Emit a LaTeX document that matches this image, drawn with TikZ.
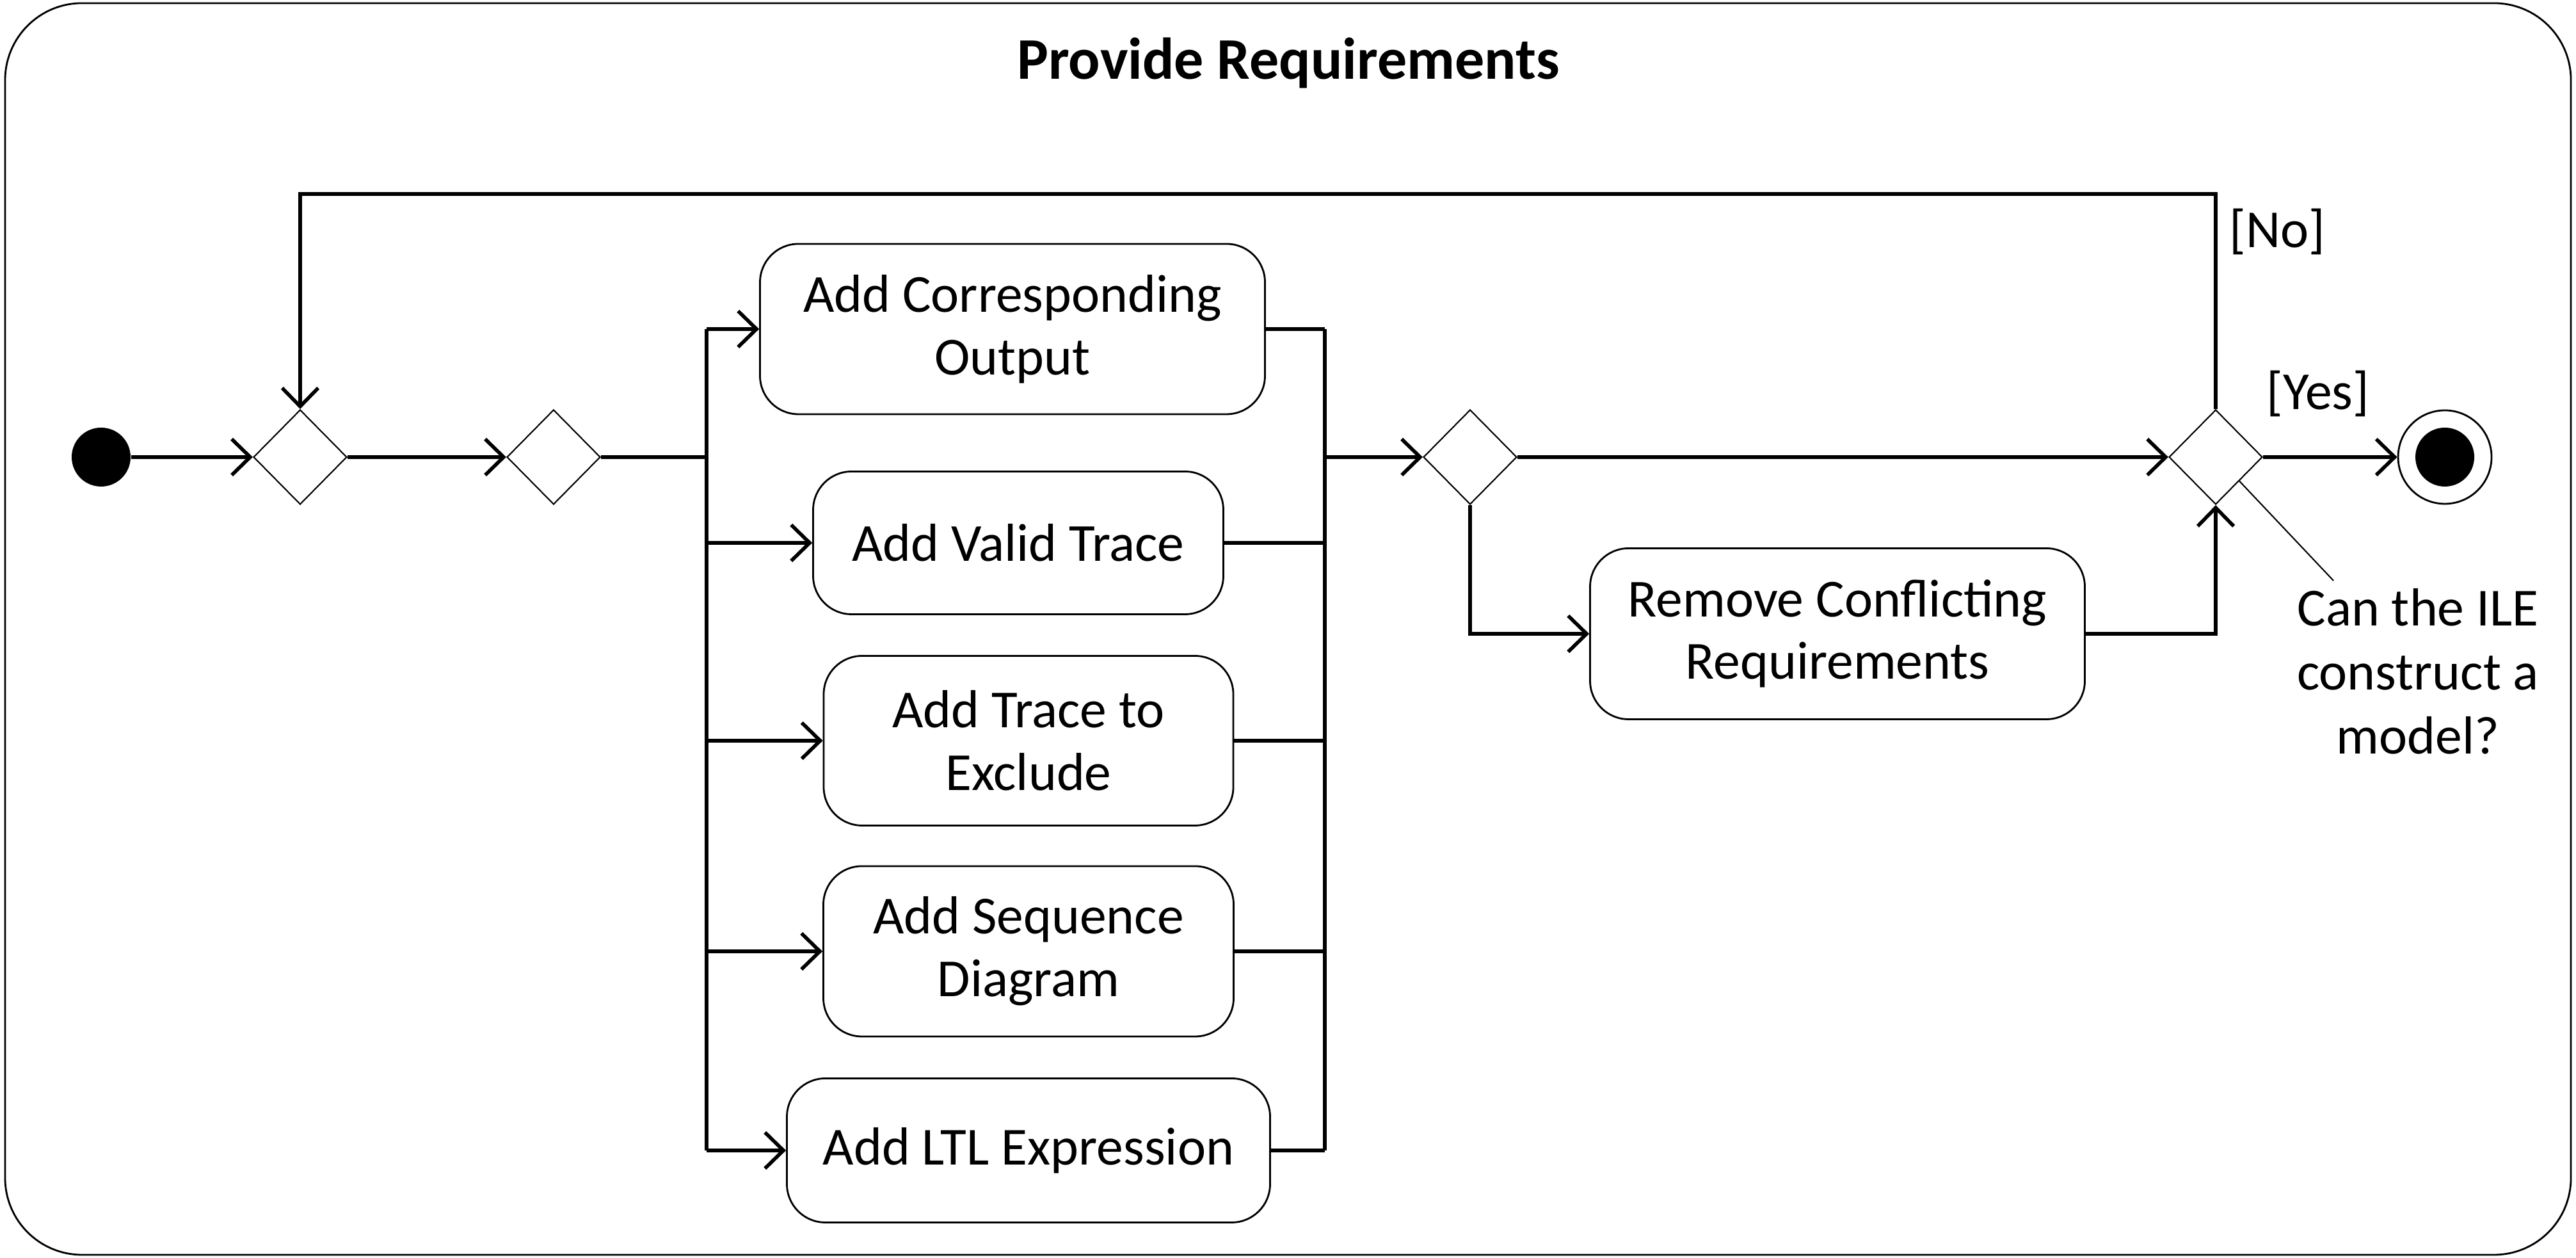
\documentclass[tikz,border=0pt]{standalone}
\usepackage{fontspec}
\setmainfont{Carlito}
\usetikzlibrary{arrows.meta,shapes.geometric}
\tikzset{
	flow/.style={line width=0.8pt, -{Straight Barb[length=4.1pt,width=8pt,line width=0.8pt]}},
	wire/.style={line width=0.8pt},
	activity/.style={draw, line width=0.4pt, rounded corners=0.3cm, align=center, inner sep=0pt, font=\fontsize{11.9}{13.9}\selectfont},
	decision/.style={draw, diamond, line width=0.3pt, inner sep=0pt, minimum width=0.73cm, minimum height=0.74cm, fill=white},
	guard/.style={font=\fontsize{11.9}{13.9}\selectfont, anchor=base, inner sep=0pt}
}

\begin{document}
\begin{tikzpicture}
		%%%%% START %%%%%
		\useasboundingbox (0, 0) rectangle (20.125, 9.825);
		
		\draw[line width=0.4pt, rounded corners=0.6cm] (0.04, 0.025) rectangle (20.085, 9.8);
		\node[font=\fontsize{13.1}{15}\selectfont\bfseries, anchor=base] (title) at (10.065, 9.205) {Provide Requirements};
		
		\node[circle, fill=black, inner sep=0pt, minimum size=0.46cm] (start) at (0.79, 6.255) {};
		\node[decision] (d1) at (2.345, 6.255) {};
		\node[decision] (d2) at (4.325, 6.255) {};
		
		\node[activity, minimum width=3.945cm, minimum height=1.33cm] (b1) at (7.91, 7.255) {Add Corresponding\\Output};
		\node[activity, minimum width=3.205cm, minimum height=1.115cm] (b2) at (7.955, 5.585) {Add Valid Trace};
		\node[activity, minimum width=3.2cm, minimum height=1.325cm] (b3) at (8.035, 4.04) {Add Trace to\\Exclude};
		\node[activity, minimum width=3.205cm, minimum height=1.33cm] (b4) at (8.035, 2.395) {Add Sequence\\Diagram};
		\node[activity, minimum width=3.775cm, minimum height=1.125cm] (b5) at (8.035, 0.84) {Add LTL Expression};
		
		\node[decision] (d3) at (11.485, 6.255) {};
		\node[activity, minimum width=3.865cm, minimum height=1.335cm] (b6) at (14.355, 4.875) {Remove Conflicting\\Requirements};
		\node[decision] (d4) at (17.31, 6.255) {};
		
		\node[circle, draw, line width=0.4pt, inner sep=0pt, minimum size=0.73cm] (final) at (19.1, 6.255) {};
		\node[circle, fill=black, inner sep=0pt, minimum size=0.46cm] (finaldot) at (final) {};
		
		\coordinate (forktop) at (5.52, 7.255);
		\coordinate (forkbot) at (5.52, 0.84);
		\coordinate (jointop) at (10.35, 7.255);
		\coordinate (joinbot) at (10.35, 0.84);
		\coordinate (loop) at (2.345, 8.31);
		\coordinate (note) at (18.23, 5.29);
		
		% flow
		\draw[flow] (start) -- (d1.west);
		\draw[flow] (d1.east) -- (d2.west);
		\draw[wire] (d2.east) -- (forktop |- d2.east);
		\draw[wire] (forktop) -- (forkbot);
		\draw[wire] (jointop) -- (joinbot);
		\foreach \b in {b1,b2,b3,b4,b5} {
			\draw[flow] (forktop |- \b.west) -- (\b.west);
			\draw[wire] (\b.east) -- (jointop |- \b.east);
		}
		\draw[flow] (jointop |- d3.west) -- (d3.west);
		\draw[flow] (d3.east) -- (d4.west);
		\draw[flow] (d3.south) |- (b6.west);
		\draw[flow] (b6.east) -| (d4.south);
		\draw[flow] (d4.north) |- (loop) -- (d1.north);
		\draw[flow] (d4.east) -- (final.west);
		
		\node[guard] (no) at (17.79, 7.89) {[No]};
		\node[guard] (yes) at (18.11, 6.625) {[Yes]};
		
		\draw[line width=0.3pt] (d4.south east) -- (note);
		\node[align=center, font=\fontsize{11.9}{14.2}\selectfont, inner sep=0pt] (question) at (18.89, 4.58) {Can the ILE\\construct a\\model?};
		%%%%% END %%%%%
\end{tikzpicture}
\end{document}
